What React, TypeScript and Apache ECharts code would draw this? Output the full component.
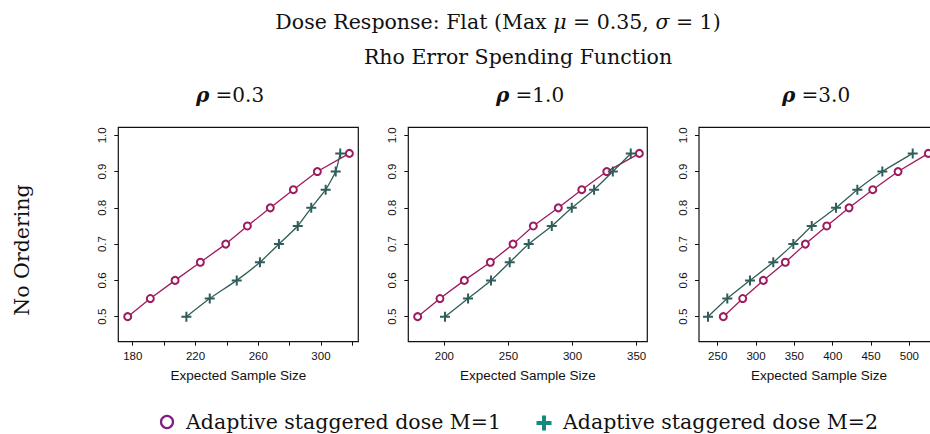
import React, { useEffect, useRef } from 'react';
import * as echarts from 'echarts';

// Power levels (y values)
const powerLevels = [0.5, 0.55, 0.6, 0.65, 0.7, 0.75, 0.8, 0.85, 0.9, 0.95];

// Expected sample sizes, rho = 0.3
const rho03M1 = [176.8, 191.2, 207.0, 223.1, 239.3, 253.1, 267.7, 282.4, 297.7, 318.1];
const rho03M2 = [214.2, 229.1, 246.3, 261.1, 273.2, 285.2, 293.8, 303.0, 309.4, 312.3];
// rho = 1.0
const rho10M1 = [179.2, 196.6, 215.6, 235.9, 253.6, 269.4, 288.9, 307.2, 326.7, 352.1];
const rho10M2 = [200.5, 218.5, 236.4, 251.0, 265.8, 283.8, 299.4, 316.8, 331.4, 345.4];
// rho = 3.0
const rho30M1 = [257.3, 282.6, 309.5, 338.2, 364.3, 392.2, 421.3, 452.2, 485.2, 524.7];
const rho30M2 = [237.3, 262.5, 292.1, 322.5, 348.6, 372.6, 404.3, 432.1, 464.7, 504.3];

// Tick values
const yTicks = [0.5, 0.6, 0.7, 0.8, 0.9, 1.0];
const xTicks1 = [180, 200, 220, 240, 260, 280, 300, 320];
const xLabels1 = [180, 220, 260, 300];
const xTicks2 = [200, 250, 300, 350];
const xLabels2 = [200, 250, 300, 350];
const xTicks3 = [250, 300, 350, 400, 450, 500];
const xLabels3 = [250, 300, 350, 400, 450, 500];

const panelTitles = ['0.3', '1.0', '3.0'];
const seriesNames = ['Adaptive staggered dose M=1', 'Adaptive staggered dose M=2'];

const M1_COLOR = '#9E1A5E';
const M2_COLOR = '#2F5E5A';
const LEG1_COLOR = '#7F1F82';
const LEG2_COLOR = '#128A7E';
const SERIF = 'DejaVu Serif';
const SANS = 'Liberation Sans';
const PLUS = 'path://M4,0H6V4H10V6H6V10H4V6H0V4H4Z';
const BIG = 20.5;

export default function App() {
  const ref = useRef<HTMLDivElement>(null);

  useEffect(() => {
    if (!ref.current) return;
    const chart = echarts.init(ref.current, undefined, { renderer: 'svg' });

    const lefts = [118.3, 408.3, 699];
    const widths = [240, 239, 240];
    const xRanges = [
      [170.8, 323.8],
      [171.9, 358.3],
      [225.6, 538.6],
    ];
    const tickSets = [xTicks1, xTicks2, xTicks3];
    const labelSets = [xLabels1, xLabels2, xLabels3];
    const dataSets = [
      [rho03M1, rho03M2],
      [rho10M1, rho10M2],
      [rho30M1, rho30M2],
    ];
    const titleCenters = [230, 530, 816];

    const grids = lefts.map((l, i) => ({
      left: l,
      top: 127.3,
      width: widths[i],
      height: 214.4,
      show: true,
      borderColor: '#111',
      borderWidth: 1.2,
      backgroundColor: 'transparent',
      containLabel: false,
      outerBoundsMode: 'none',
    }));

    const xAxes = lefts.map((_, i) => ({
      type: 'value',
      gridIndex: i,
      min: xRanges[i][0],
      max: xRanges[i][1],
      splitLine: { show: false },
      axisLine: { show: false },
      axisTick: {
        show: true,
        length: 4,
        customValues: tickSets[i],
        lineStyle: { color: '#111', width: 1 },
      },
      axisLabel: {
        customValues: labelSets[i],
        fontSize: 11.5,
        color: '#111',
        fontFamily: SANS,
        margin: 8,
      },
      name: 'Expected Sample Size',
      nameLocation: 'middle',
      nameGap: 27,
      nameTextStyle: { fontSize: 13.5, color: '#111', fontFamily: SANS },
    }));

    const yAxes = lefts.map((_, i) => ({
      type: 'value',
      gridIndex: i,
      min: 0.431,
      max: 1.022,
      splitLine: { show: false },
      axisLine: { show: false },
      axisTick: {
        show: true,
        length: 4,
        customValues: yTicks,
        lineStyle: { color: '#111', width: 1 },
      },
      axisLabel: {
        customValues: yTicks,
        rotate: 90,
        fontSize: 11.5,
        color: '#111',
        fontFamily: SANS,
        margin: 10,
        formatter: (v: number) => v.toFixed(1),
      },
    }));

    const series: any[] = [];
    dataSets.forEach((pair, i) => {
      series.push({
        type: 'line',
        name: seriesNames[0],
        xAxisIndex: i,
        yAxisIndex: i,
        data: pair[0].map((x, k) => [x, powerLevels[k]]),
        symbol: 'emptyCircle',
        symbolSize: 7,
        lineStyle: { color: M1_COLOR, width: 1.3 },
        itemStyle: { color: M1_COLOR, borderColor: M1_COLOR, borderWidth: 1.3 },
        z: 3,
      });
      series.push({
        type: 'line',
        name: seriesNames[1],
        xAxisIndex: i,
        yAxisIndex: i,
        data: pair[1].map((x, k) => [x, powerLevels[k]]),
        symbol: PLUS,
        symbolSize: 10,
        smooth: 0.15,
        lineStyle: { color: M2_COLOR, width: 1.3 },
        itemStyle: { color: M2_COLOR },
        z: 4,
      });
    });

    const italic = { fontFamily: SERIF, fontStyle: 'italic', fontSize: BIG, fill: '#111' };

    const graphic: any[] = [
      {
        type: 'text',
        x: 498,
        y: 22,
        style: {
          text: 'Dose Response: Flat (Max {i|μ} = 0.35, {i|σ} = 1)',
          fontFamily: SERIF,
          fontSize: BIG,
          fill: '#111',
          textAlign: 'center',
          textVerticalAlign: 'middle',
          rich: { i: italic },
        },
      },
      {
        type: 'text',
        x: 518,
        y: 57,
        style: {
          text: 'Rho Error Spending Function',
          font: `${BIG}px "${SERIF}"`,
          fill: '#111',
          textAlign: 'center',
          textVerticalAlign: 'middle',
        },
      },
      ...panelTitles.map((t, i) => ({
        type: 'text',
        x: titleCenters[i],
        y: 95,
        style: {
          text: `{r|ρ} =${t}`,
          fontFamily: SERIF,
          fontSize: 20,
          fill: '#111',
          textAlign: 'center',
          textVerticalAlign: 'middle',
          rich: {
            r: { fontFamily: SERIF, fontStyle: 'italic', fontWeight: 'bold', fontSize: 20, fill: '#111' },
          },
        },
      })),
      {
        type: 'text',
        x: 22,
        y: 250,
        rotation: Math.PI / 2,
        style: {
          text: 'No Ordering',
          font: `${BIG}px "${SERIF}"`,
          fill: '#111',
          textAlign: 'center',
          textVerticalAlign: 'middle',
        },
      },
      {
        type: 'circle',
        shape: { cx: 167, cy: 422, r: 6 },
        style: { fill: 'none', stroke: LEG1_COLOR, lineWidth: 2.2 },
      },
      {
        type: 'text',
        x: 186,
        y: 422,
        style: {
          text: seriesNames[0],
          font: `${BIG}px "${SERIF}"`,
          fill: '#111',
          textAlign: 'left',
          textVerticalAlign: 'middle',
        },
      },
      {
        type: 'rect',
        shape: { x: 536.5, y: 421, width: 15, height: 4 },
        style: { fill: LEG2_COLOR },
      },
      {
        type: 'rect',
        shape: { x: 542, y: 415.5, width: 4, height: 15 },
        style: { fill: LEG2_COLOR },
      },
      {
        type: 'text',
        x: 563,
        y: 422,
        style: {
          text: seriesNames[1],
          font: `${BIG}px "${SERIF}"`,
          fill: '#111',
          textAlign: 'left',
          textVerticalAlign: 'middle',
        },
      },
    ];

    chart.setOption({
      animation: false,
      backgroundColor: '#ffffff',
      grid: grids,
      xAxis: xAxes,
      yAxis: yAxes,
      series,
      graphic,
    });

    return () => chart.dispose();
  }, []);

  return (
    <div
      ref={ref}
      style={{ position: 'fixed', left: 0, top: 0, width: 930, height: 434, overflow: 'hidden' }}
    />
  );
}
